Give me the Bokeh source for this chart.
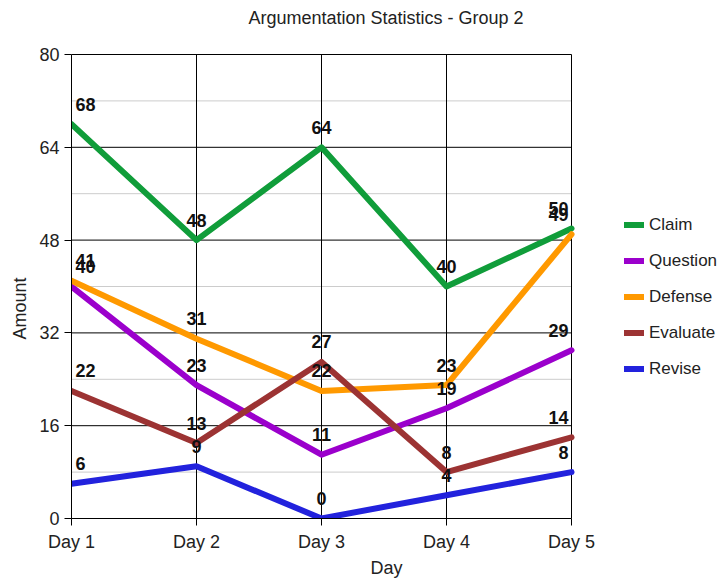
from bokeh.plotting import figure
from bokeh.models import (ColumnDataSource, Legend, LegendItem, Title, Label,
                          FixedTicker, Range1d)
from bokeh.core.properties import value
from bokeh.embed import file_html
from bokeh.resources import INLINE

# --- data -------------------------------------------------------------
days = ["Day 1", "Day 2", "Day 3", "Day 4", "Day 5"]
series_names = ["Claim", "Question", "Defense", "Evaluate", "Revise"]
claim = [68, 48, 64, 40, 50]
question = [40, 23, 11, 19, 29]
defense = [41, 31, 22, 23, 49]
evaluate = [22, 13, 27, 8, 14]
revise = [6, 9, 0, 4, 8]
y_ticks = [0, 16, 32, 48, 64, 80]
y_minor = [8, 24, 40, 56, 72]

colors = ["#109d3a", "#9b00cc", "#ff9900", "#9c3333", "#2222dd"]
FONT = "Liberation Sans"
FS = "18px"

# canvas layout (pixels)
W, H = 720, 581
LEFT, BOTTOM = 71, 63
PLOT_W, PLOT_H = 500, 464          # area covered by the axes
FRAME_W, FRAME_H = W - LEFT, H - BOTTOM

x_idx = list(range(len(days)))
x_max = len(days) - 1
y_max = y_ticks[-1]

# the frame reaches the canvas' top and right edges so that the title and
# the legend can be drawn inside it; the axes are bounded to the data span
p = figure(width=W, height=H, output_backend="svg", toolbar_location=None,
           x_range=Range1d(0, x_max * FRAME_W / PLOT_W),
           y_range=Range1d(0, y_max * FRAME_H / PLOT_H),
           min_border_left=LEFT, min_border_right=0,
           min_border_top=0, min_border_bottom=BOTTOM,
           background_fill_color="white", border_fill_color="white")
p.outline_line_color = None
p.xgrid.visible = False
p.ygrid.visible = False

# axes
p.xaxis.ticker = FixedTicker(ticks=x_idx)
p.xaxis.major_label_overrides = {i: d for i, d in zip(x_idx, days)}
p.xaxis.bounds = (0, x_max)
p.yaxis.ticker = FixedTicker(ticks=y_ticks)
p.yaxis.bounds = (0, y_max)
for ax in (p.xaxis, p.yaxis):
    ax.axis_line_color = "black"
    ax.major_tick_line_color = "black"
    ax.major_tick_in = 0
    ax.major_tick_out = 7
    ax.minor_tick_line_color = None
    ax.major_label_text_font = FONT
    ax.major_label_text_font_size = FS
    ax.major_label_text_color = "#222222"
p.xaxis.major_label_standoff = 6
p.yaxis.major_label_standoff = 5

p.add_layout(Title(text="Day", align="left", offset=299, text_font=FONT,
                   text_font_size=FS, text_font_style="normal",
                   text_color="#222222", standoff=2), "below")
p.add_layout(Title(text="Amount", align="left", offset=179, text_font=FONT,
                   text_font_size=FS, text_font_style="normal",
                   text_color="#222222", standoff=14), "left")

# grid lines, limited to the axes' span
p.segment(x0=0, x1=x_max, y0=y_minor, y1=y_minor,
          line_color="#cccccc", line_width=1)
p.segment(x0=0, x1=x_max, y0=y_ticks, y1=y_ticks,
          line_color="black", line_width=1)
p.segment(x0=x_idx, x1=x_idx, y0=0, y1=y_max,
          line_color="black", line_width=1)

# chart title
p.add_layout(Label(x=177, y=FRAME_H - 17, x_units="screen", y_units="screen",
                   text="Argumentation Statistics - Group 2",
                   text_font=FONT, text_font_size=FS, text_color="#222222",
                   text_align="left", text_baseline="middle"))

# lines and value labels
all_values = [claim, question, defense, evaluate, revise]
items = []
for name, vals, col in zip(series_names, all_values, colors):
    r = p.line(x_idx, vals, line_color=col, line_width=6,
               line_join="round", line_cap="round")
    items.append(LegendItem(label=name, renderers=[r]))

for vals in reversed(all_values):
    align = ["left" if i == 0 else ("right" if i == x_max else "center")
             for i in x_idx]
    xoff = [4 if i == 0 else (-3 if i == x_max else 0) for i in x_idx]
    src = ColumnDataSource(dict(x=x_idx, y=vals, t=[str(v) for v in vals],
                                align=align, xoff=xoff))
    p.text(x="x", y="y", text="t", source=src, text_align="align",
           x_offset="xoff", y_offset=-20, text_baseline="middle",
           text_font=value(FONT), text_font_size=FS,
           text_font_style="bold", text_color="#111111")

# legend to the right of the axes
legend = Legend(items=items, location=(553, 139), orientation="vertical",
                padding=0, margin=0, spacing=15, glyph_width=20,
                glyph_height=21, label_height=21, label_standoff=5,
                label_text_font=FONT, label_text_font_size="17px",
                label_text_color="#222222",
                border_line_color=None, background_fill_alpha=0)
p.add_layout(legend, "center")

open("out.html", "w").write(file_html(p, INLINE))
